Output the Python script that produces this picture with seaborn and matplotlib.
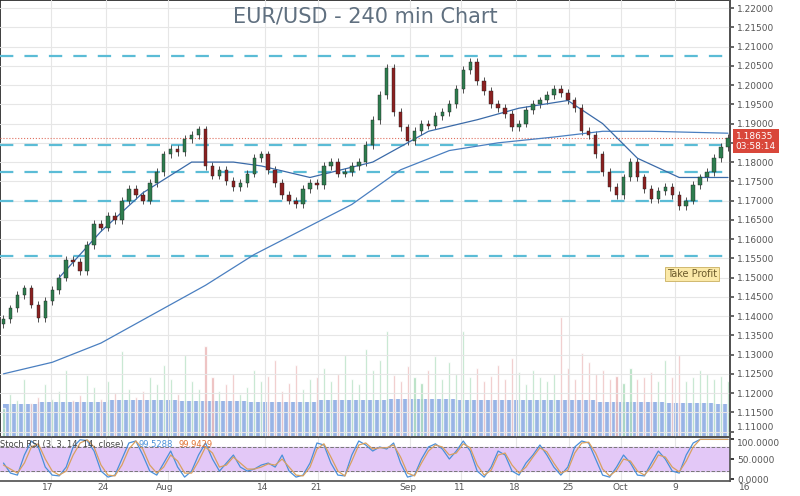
import numpy as np
import pandas as pd
import matplotlib
matplotlib.use("Agg")
import matplotlib.pyplot as plt
import seaborn as sns

sns.set_theme(style="white")
plt.rcParams['font.family'] = ['DejaVu Sans']

closes = [1.1392,1.1420,1.1455,1.1472,1.1430,1.1395,1.1440,1.1468,1.1500,1.1545,
          1.1540,1.1518,1.1585,1.1640,1.1630,1.1660,1.1650,1.1700,1.1730,1.1715,
          1.1700,1.1745,1.1775,1.1820,1.1835,1.1825,1.1860,1.1870,1.1885,1.1790,
          1.1765,1.1780,1.1750,1.1735,1.1745,1.1770,1.1810,1.1820,1.1780,1.1745,
          1.1715,1.1700,1.1690,1.1730,1.1745,1.1740,1.1790,1.1800,1.1770,1.1775,
          1.1790,1.1800,1.1845,1.1910,1.1975,1.2045,1.1930,1.1890,1.1855,1.1880,
          1.1900,1.1895,1.1920,1.1930,1.1950,1.1990,1.2040,1.2060,1.2010,1.1985,
          1.1950,1.1940,1.1925,1.1890,1.1900,1.1935,1.1950,1.1960,1.1975,1.1990,
          1.1980,1.1960,1.1940,1.1880,1.1870,1.1820,1.1775,1.1735,1.1715,1.1760,
          1.1800,1.1760,1.1730,1.1705,1.1725,1.1735,1.1715,1.1685,1.1700,1.1740,
          1.1760,1.1775,1.1810,1.1840,1.1863]
first_open = 1.1380

ma200_x = [0, 7, 14, 21, 29, 36, 43, 50, 57, 64, 71, 79, 86, 93, 104]
ma200_y = [1.1250,1.1280,1.1330,1.1400,1.1480,1.1560,1.1625,1.1690,1.1780,1.1830,
           1.1850,1.1865,1.1880,1.1880,1.1875]
ma50_x = [8, 14, 20, 27, 33, 37, 44, 53, 61, 68, 74, 81, 86, 91, 97, 104]
ma50_y = [1.1500,1.1620,1.1720,1.1800,1.1800,1.1790,1.1760,1.1800,1.1880,1.1910,
          1.1940,1.1960,1.1900,1.1810,1.1760,1.1760]

volume = [30,45,38,60,35,42,55,40,48,70,38,44,65,52,40,58,46,90,50,42,
          48,62,55,75,60,45,85,58,50,95,62,48,55,66,45,52,70,58,64,80,
          48,56,75,50,60,62,72,58,66,85,60,55,92,70,80,110,65,58,74,62,
          56,70,84,60,78,66,110,62,72,58,64,75,60,82,68,55,70,62,58,66,
          125,72,60,88,78,66,70,60,64,56,72,60,62,68,58,80,62,85,58,62,
          70,66,60,64,58]
vol_base_x = [0, 10, 20, 30, 40, 50, 60, 70, 80, 90, 100, 104]
vol_base_y = [34, 36, 38, 37, 36, 38, 40, 39, 38, 36, 35, 34]

stoch_k = [40,15,10,60,95,80,30,10,8,30,80,98,96,70,20,5,10,50,90,95,
           60,20,10,40,70,30,5,20,60,90,50,20,40,60,30,20,25,35,40,30,
           60,20,5,10,40,90,85,40,10,8,60,95,85,70,80,75,90,40,5,10,
           50,80,88,75,50,70,95,70,20,5,30,70,60,20,10,40,60,85,60,30,
           10,30,80,95,90,50,10,5,30,60,40,10,8,40,70,50,20,15,60,90,
           99,99,99,99,99]
stoch_d = [35,25,15,40,80,88,50,20,10,20,60,90,98,80,35,10,8,35,75,95,
           75,35,15,30,60,45,15,15,45,80,65,30,35,55,40,25,25,30,38,35,
           50,30,10,8,30,75,88,55,20,8,45,85,90,75,78,78,85,55,15,8,
           40,70,85,80,60,65,88,78,35,10,22,60,65,35,15,30,55,78,68,40,
           15,22,65,90,92,65,25,8,22,50,45,20,10,30,60,55,30,18,45,80,
           99,99,99,99,99]

levels = [1.2075, 1.1845, 1.1775, 1.1700, 1.1555]
date_px = [48, 103, 165, 263, 316, 408, 460, 515, 568, 620, 675, 745]
date_lbl = ['17', '24', 'Aug', '14', '21', 'Sep', '11', '18', '25', 'Oct', '9', '16']

opens = [first_open] + closes[:-1]
df = pd.DataFrame({'i': np.arange(len(closes)), 'o': opens, 'c': closes})
df['up'] = df['c'] >= df['o']

fig = plt.figure(figsize=(8, 4.96), dpi=100)
ax = fig.add_axes([0, 0.119, 0.9125, 0.881])
axs = fig.add_axes([0, 0.03, 0.9125, 0.089])
PX = 7.0
xmax = 730 / PX
grid_c = '#e6e6e6'
YL = (1.1086, 1.2221)

axv = ax.twinx()
axv.set_ylim(0, 125 * 437 / 120)
axv.fill_between(vol_base_x, 0, vol_base_y, color='#7fa2e0', alpha=0.8, step='mid', lw=0)
vcol = ['#9ed6b0' if u else '#e7a9a9' for u in df['up']]
axv.bar(df['i'], volume, width=0.3, color=vcol, alpha=0.8)
axv.set_yticks([])
axv.set_zorder(0)
ax.set_zorder(1)
ax.patch.set_visible(False)

for xp in date_px:
    ax.axvline(xp / PX, color=grid_c, lw=0.8, zorder=0)
    axs.axvline(xp / PX, color=grid_c, lw=0.8, zorder=0)
ticks = np.arange(1.110, 1.2201, 0.005)
for p in ticks:
    ax.axhline(p, color=grid_c, lw=0.8, zorder=0)

for lv in levels:
    ax.axhline(lv, color='#5bbcd6', lw=1.6, ls=(0, (6, 5)), zorder=2)

hi = np.maximum(df['o'], df['c']) + 0.0010
lo = np.minimum(df['o'], df['c']) - 0.0010
ax.vlines(df['i'], lo, hi, color='#333333', lw=0.6, zorder=3)
colors = np.where(df['up'], '#2e7d4f', '#8b2020')
ax.bar(df['i'], (df['c'] - df['o']).abs().clip(lower=0.0003), bottom=np.minimum(df['o'], df['c']),
       width=0.5, color=colors, edgecolor='#222222', lw=0.3, zorder=4)

sns.lineplot(x=ma200_x, y=ma200_y, ax=ax, color='#4a7fc0', lw=0.9, zorder=3)
sns.lineplot(x=ma50_x, y=ma50_y, ax=ax, color='#3a6aa8', lw=0.9, zorder=3)

last = closes[-1]
ax.axhline(last, color='#e07060', lw=0.8, ls=':', zorder=2)

ax.set_xlim(-0.5, xmax)
ax.set_ylim(*YL)
ax.yaxis.tick_right()
ax.set_yticks(ticks)
ax.set_yticklabels(['' if abs(v - 1.185) < 1e-6 else f'{v:.5f}' for v in ticks],
                   fontsize=6.5, color='#555555')
ax.get_yticklabels()[0].set_va('bottom')
ax.tick_params(axis='y', length=3, pad=2, colors='#555555')
ax.set_xticks([])
for s in ['top', 'left']:
    ax.spines[s].set_visible(False)
ax.spines['right'].set_color('#555555')
ax.spines['bottom'].set_color('#555555')
ax.set_xlabel('')
ax.set_ylabel('')

ax.text(0.5, 0.985, 'EUR/USD - 240 min Chart', transform=ax.transAxes, ha='center', va='top',
        fontsize=15, color='#607080')
ax.text(1.008, (last - YL[0]) / (YL[1] - YL[0]) - 0.008, '1.18635\n03:58:14', transform=ax.transAxes,
        ha='left', va='center', fontsize=6.5, color='white', linespacing=1.1, zorder=10,
        bbox=dict(boxstyle='square,pad=0.3', fc='#d9473a', ec='none'))
ax.text(0.982, (1.1510 - YL[0]) / (YL[1] - YL[0]), 'Take Profit', transform=ax.transAxes,
        ha='right', va='center', fontsize=7, color='#6b5a2a',
        bbox=dict(boxstyle='square,pad=0.2', fc='#fbe9a8', ec='#c9b060', lw=0.6))

axs.axhspan(20, 80, color='#e3c8f7', zorder=0)
axs.axhline(80, color='#777777', lw=0.7, ls='--')
axs.axhline(20, color='#777777', lw=0.7, ls='--')
sns.lineplot(x=df['i'], y=stoch_k, ax=axs, color='#4a90d9', lw=0.9)
sns.lineplot(x=df['i'], y=stoch_d, ax=axs, color='#d8a060', lw=0.9)
axs.set_xlim(-0.5, xmax)
axs.set_ylim(-5, 105)
axs.yaxis.tick_right()
axs.set_yticks([0, 50, 100])
axs.set_yticklabels(['0.0000', '50.0000', '100.0000'], fontsize=6.5, color='#555555')
axs.get_yticklabels()[2].set_va('top')
axs.tick_params(axis='y', length=3, pad=2)
axs.set_xticks([])
axs.set_xlabel('')
axs.set_ylabel('')
for s in ['top', 'left']:
    axs.spines[s].set_visible(False)
axs.spines['right'].set_color('#555555')
axs.spines['bottom'].set_color('#555555')
axs.text(0.0, 0.82, 'Stoch RSI (3, 3, 14, 14, close)', transform=axs.transAxes, fontsize=6,
         color='#444444', va='center')
axs.text(0.19, 0.82, '99.5288', transform=axs.transAxes, fontsize=6, color='#4a90d9', va='center')
axs.text(0.245, 0.82, '99.9429', transform=axs.transAxes, fontsize=6, color='#e07030', va='center')

for xp, lb in zip(date_px, date_lbl):
    fig.text(xp / 800, 0.008, lb, ha='center', va='bottom', fontsize=6.5, color='#555555')

fig.savefig('out.png', dpi=100)
